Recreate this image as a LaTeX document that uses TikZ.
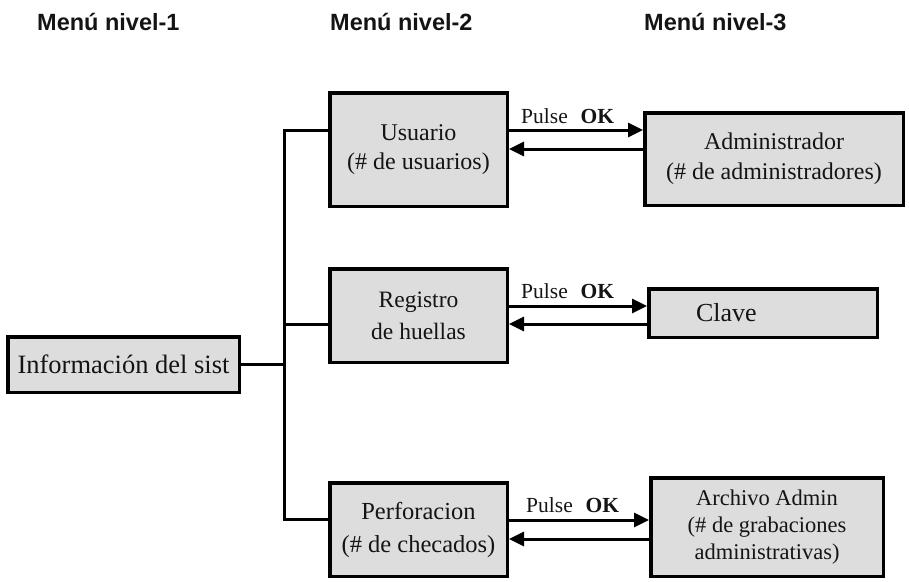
\documentclass[tikz,border=0pt]{standalone}
\usepackage{fontspec}
\setmainfont{Liberation Serif}
\newfontfamily\headfont{Liberation Sans}
\usetikzlibrary{arrows.meta}
\definecolor{boxfill}{HTML}{DDDDDD}
\definecolor{ink}{HTML}{141414}
\begin{document}
\begin{tikzpicture}[x=1pt,y=-1pt,
  box/.style={draw=black, fill=boxfill, line width=3.5pt, inner sep=0pt, align=center, text=ink},
  conn/.style={line width=3pt, draw=black},
  arr/.style={conn, -{Triangle[length=15pt,width=14pt]}},
  lbl/.style={anchor=base west, inner sep=0pt, font=\fontsize{21.5}{24}\selectfont, text=ink},
  head/.style={anchor=base west, inner sep=0pt, font=\headfont\bfseries\fontsize{23.5}{26}\selectfont, text=ink}]
\useasboundingbox (0,0) rectangle (909,581);

% headings
\node[head] (h1) at (37,30) {Menú nivel-1};
\node[head] (h2) at (330,30) {Menú nivel-2};
\node[head] (h3) at (644,30) {Menú nivel-3};

% level 1
\node[box, minimum width=231.5pt, minimum height=55.5pt, font=\fontsize{26.5}{30}\selectfont] (info) at (123.5,364.5) {Información del sist};

% level 2
\node[box, minimum width=177.5pt, minimum height=113.5pt, font=\fontsize{24}{29}\selectfont] (usu) at (418.5,149.5) {Usuario\\(\# de usuarios)};
\node[box, minimum width=177.5pt, minimum height=93.5pt, font=\fontsize{23.5}{32}\selectfont] (reg) at (418.5,315.5) {Registro\\de huellas};
\node[box, minimum width=177.5pt, minimum height=93.5pt, font=\fontsize{24.5}{33}\selectfont] (perf) at (418.5,529.5) {Perforacion\\(\# de checados)};

% level 3
\node[box, minimum width=258.5pt, minimum height=92.5pt, font=\fontsize{24}{30}\selectfont] (adm) at (774,159) {Administrador\\(\# de administradores)};
\node[box, minimum width=228.5pt, minimum height=48.5pt, font=\fontsize{26}{30}\selectfont] (clave) at (763,313) {\makebox[228pt][l]{\hspace{47pt}Clave}};
\node[box, minimum width=232.5pt, minimum height=98.5pt, font=\fontsize{22.5}{27}\selectfont] (arch) at (767,527) {Archivo Admin\\(\# de grabaciones\\administrativas)};

% bus
\coordinate (bt) at ([yshift=19.5pt]usu.west -| 284,0);
\coordinate (bb) at ([yshift=10.5pt]perf.west -| 284,0);
\coordinate (bi) at (info.east -| 284,0);
\coordinate (br) at ([yshift=-8.5pt]reg.west -| 284,0);
\draw[conn, line join=miter] ([yshift=19.5pt]usu.west) -- (bt) -- (bb) -- ([yshift=10.5pt]perf.west);
\draw[conn] (info.east) -- (bi);
\draw[conn] (br) -- ([yshift=-8.5pt]reg.west);

% arrows usuario <-> administrador
\draw[arr] ([yshift=19.5pt]usu.east) -- ([yshift=19.5pt]usu.east -| adm.west);
\draw[arr] ([yshift=0.5pt]usu.east -| adm.west) -- ([yshift=0.5pt]usu.east);
\node[lbl] (l1) at (521,123) {Pulse\hspace{0.6em}\textbf{OK}};

% arrows registro <-> clave
\draw[arr] ([yshift=9.5pt]reg.east) -- ([yshift=9.5pt]reg.east -| clave.west);
\draw[arr] ([yshift=-8.5pt]reg.east -| clave.west) -- ([yshift=-8.5pt]reg.east);
\node[lbl] (l2) at (521,298) {Pulse\hspace{0.6em}\textbf{OK}};

% arrows perforacion <-> archivo
\draw[arr] ([yshift=9.5pt]perf.east) -- ([yshift=9.5pt]perf.east -| arch.west);
\draw[arr] ([yshift=-9.5pt]perf.east -| arch.west) -- ([yshift=-9.5pt]perf.east);
\node[lbl] (l3) at (526,512) {Pulse\hspace{0.6em}\textbf{OK}};
\end{tikzpicture}
\end{document}
